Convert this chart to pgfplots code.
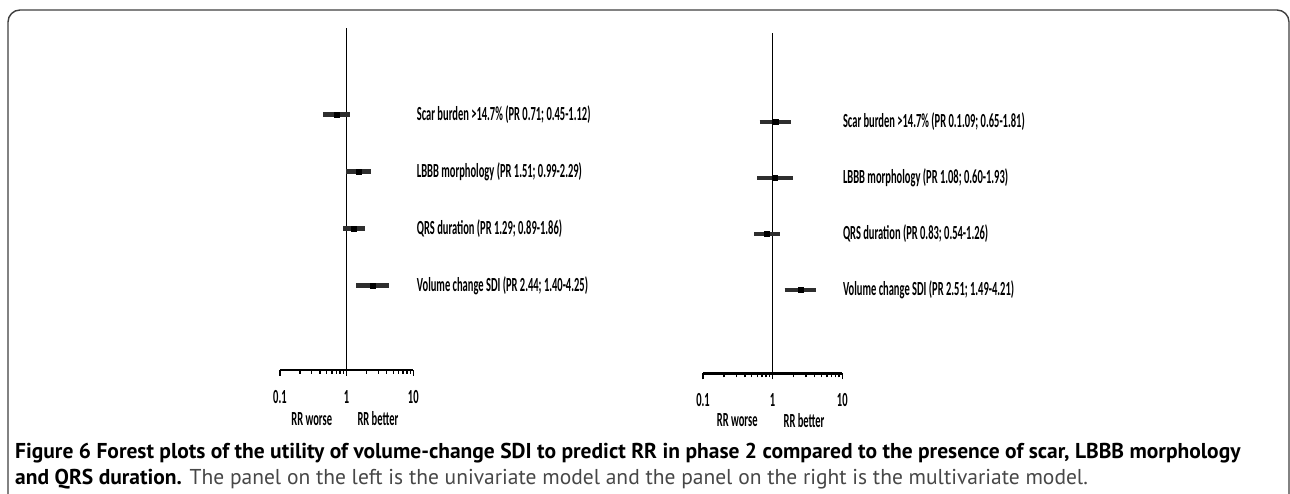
\documentclass[border=0pt]{standalone}
\usepackage{pgfplots}
\pgfplotsset{compat=1.18}
\usepackage{fontspec}
\setmainfont{PT Sans}
\newfontfamily\plotfont[FakeStretch=0.525]{Carlito}
\newfontfamily\capfont{PT Sans}
\newcommand{\pf}{\plotfont\bfseries\fontsize{20}{20}\selectfont}
\begin{document}
\begin{tikzpicture}[x=1pt,y=1pt]
\useasboundingbox (0,0) rectangle (1290,494);
\fill[white] (0,0) rectangle (1290,494);
\draw[line width=1.4pt, black!75, rounded corners=12pt] (8,-30) rectangle (1289,484);
% left panel
\begin{axis}[at={(279.9pt,124pt)}, width=133.4pt, height=342pt, ymin=-0.482, ymax=5.518,
  scale only axis, anchor=south west,
  xmode=log, xmin=0.1, xmax=10,
  axis x line=bottom, axis y line=none, ytick=\empty,
  axis line style={-, line width=2.6pt, black},
  xtick={0.1,1,10}, xticklabels={{0.1},{1},{10}},
  minor xtick={0.2,0.3,0.4,0.5,0.6,0.7,0.8,0.9,2,3,4,5,6,7,8,9},
  tick align=outside, major tick length=6pt, minor tick length=4pt,
  tick style={line width=1.4pt, black},
  xticklabel style={font=\pf, yshift=-11pt},
  clip=false]
\addplot[black, line width=1.3pt] coordinates {(1,-0.482) (1,5.518)};
\addplot[black!82, line width=4.2pt] coordinates {(0.45,4) (1.12,4)};
\addplot[black!82, line width=4.2pt] coordinates {(0.99,3) (2.29,3)};
\addplot[black!82, line width=4.2pt] coordinates {(0.89,2) (1.86,2)};
\addplot[black!82, line width=4.2pt] coordinates {(1.40,1) (4.25,1)};
\addplot[only marks, mark=square*, mark size=2.6pt, black] coordinates {(0.71,4) (1.51,3) (1.29,2) (2.44,1)};
\node[anchor=west, inner sep=0, font=\pf, xshift=3.4pt] at (axis cs:10,4) {Scar burden >14.7\% (PR 0.71; 0.45-1.12)};
\node[anchor=west, inner sep=0, font=\pf, xshift=3.4pt] at (axis cs:10,3) {LBBB morphology (PR 1.51; 0.99-2.29)};
\node[anchor=west, inner sep=0, font=\pf, xshift=3.4pt] at (axis cs:10,2) {QRS duration (PR 1.29; 0.89-1.86)};
\node[anchor=west, inner sep=0, font=\pf, xshift=3.4pt] at (axis cs:10,1) {Volume change SDI (PR 2.44; 1.40-4.25)};
\node[font=\pf, yshift=-49pt] at (axis cs:0.30,-0.482) {RR worse};
\node[font=\pf, yshift=-49pt] at (axis cs:2.95,-0.482) {RR better};
\end{axis}
% right panel
\begin{axis}[at={(703pt,120.7pt)}, width=139.3pt, height=340pt, ymin=-0.485, ymax=5.576,
  scale only axis, anchor=south west,
  xmode=log, xmin=0.1, xmax=10,
  axis x line=bottom, axis y line=none, ytick=\empty,
  axis line style={-, line width=2.6pt, black},
  xtick={0.1,1,10}, xticklabels={{0.1},{1},{10}},
  minor xtick={0.2,0.3,0.4,0.5,0.6,0.7,0.8,0.9,2,3,4,5,6,7,8,9},
  tick align=outside, major tick length=6pt, minor tick length=4pt,
  tick style={line width=1.4pt, black},
  xticklabel style={font=\pf, yshift=-11pt},
  clip=false]
\addplot[black, line width=1.3pt] coordinates {(1,-0.485) (1,5.576)};
\addplot[black!82, line width=4.2pt] coordinates {(0.65,4) (1.81,4)};
\addplot[black!82, line width=4.2pt] coordinates {(0.60,3) (1.93,3)};
\addplot[black!82, line width=4.2pt] coordinates {(0.54,2) (1.26,2)};
\addplot[black!82, line width=4.2pt] coordinates {(1.49,1) (4.21,1)};
\addplot[only marks, mark=square*, mark size=2.6pt, black] coordinates {(1.09,4) (1.08,3) (0.83,2) (2.51,1)};
\node[anchor=west, inner sep=0, font=\pf, xshift=0.5pt] at (axis cs:10,4) {Scar burden >14.7\% (PR 0.1.09; 0.65-1.81)};
\node[anchor=west, inner sep=0, font=\pf, xshift=0.5pt] at (axis cs:10,3) {LBBB morphology (PR 1.08; 0.60-1.93)};
\node[anchor=west, inner sep=0, font=\pf, xshift=0.5pt] at (axis cs:10,2) {QRS duration (PR 0.83; 0.54-1.26)};
\node[anchor=west, inner sep=0, font=\pf, xshift=0.5pt] at (axis cs:10,1) {Volume change SDI (PR 2.51; 1.49-4.21)};
\node[font=\pf, yshift=-47pt] at (axis cs:0.31,-0.485) {RR worse};
\node[font=\pf, yshift=-47pt] at (axis cs:2.82,-0.485) {RR better};
\end{axis}
% caption
\node[anchor=base west, inner sep=0, font=\capfont\fontsize{21.5}{21.5}\selectfont\bfseries] at (15,35) {Figure 6 Forest plots of the utility of volume-change SDI to predict RR in phase 2 compared to the presence of scar, LBBB morphology};
\node[anchor=base west, inner sep=0, font=\capfont\fontsize{21.5}{21.5}\selectfont] at (15,9) {\textbf{and QRS duration.} {\color{black!72}The panel on the left is the univariate model and the panel on the right is the multivariate model.}};
\end{tikzpicture}
\end{document}
